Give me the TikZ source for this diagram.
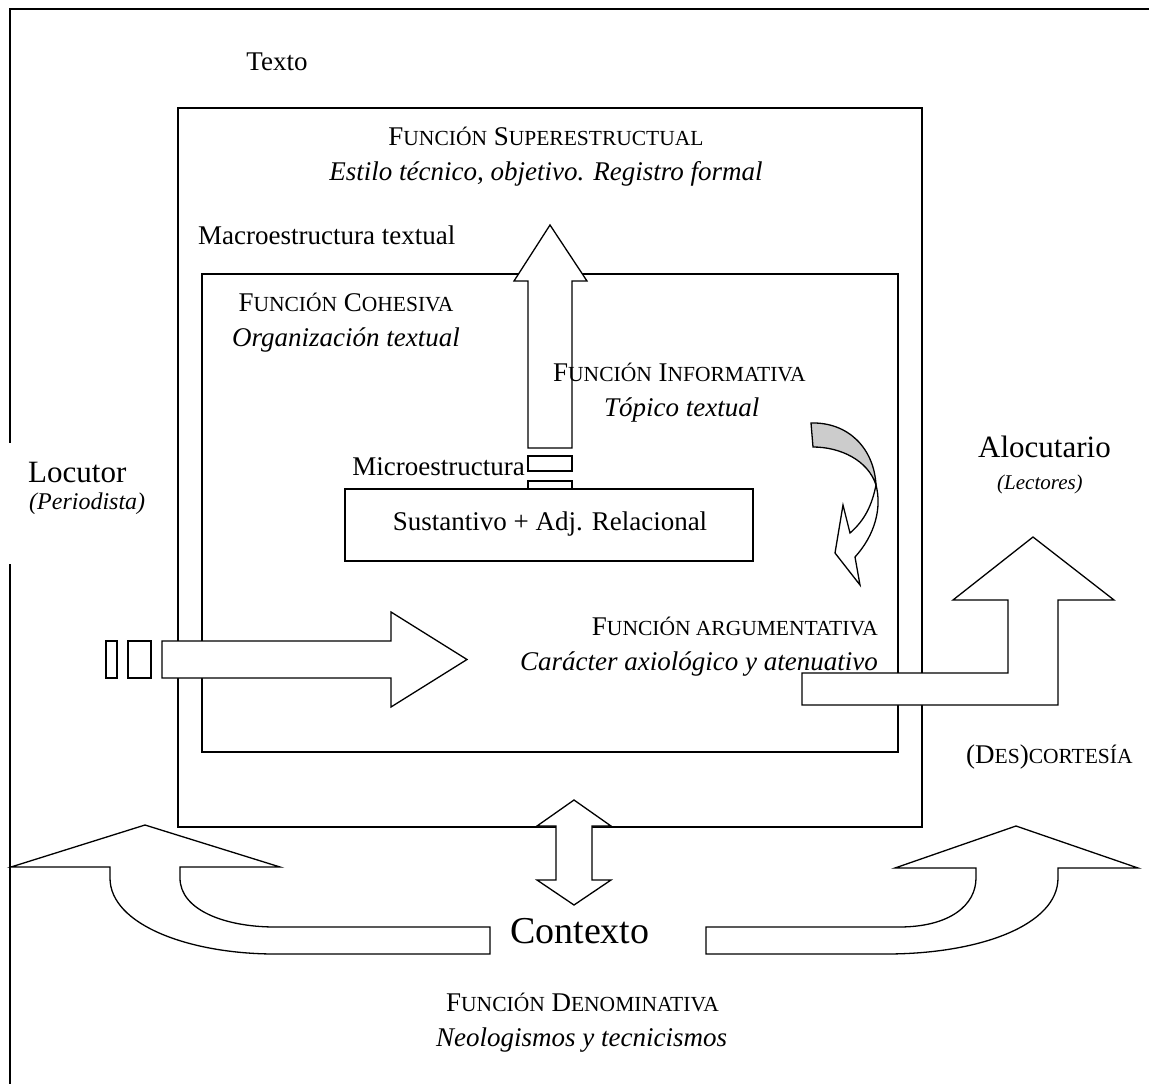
\documentclass[tikz,border=0pt]{standalone}
\usepackage{fontspec}
\setmainfont{Liberation Serif}
\newcommand\smc[1]{{\fontsize{21.5}{25}\selectfont #1}}
\definecolor{twistgray}{RGB}{204,204,204}
\begin{document}
\begin{tikzpicture}[x=1pt,y=-1pt,
  frame/.style={line width=1.6pt},
  shapeline/.style={draw,fill=white,line width=1.3pt,line join=miter},
  txt/.style={inner sep=0pt,font=\fontsize{27}{31}\selectfont},
  itxt/.style={inner sep=0pt,font=\fontsize{27}{31}\selectfont\itshape},
  big/.style={inner sep=0pt,font=\fontsize{31}{36}\selectfont},
  par/.style={inner sep=0pt,font=\fontsize{24}{28}\selectfont\itshape}]
\useasboundingbox (0,0) rectangle (1149,1084);

% open outer frame
\draw[line width=2.6pt] (1149,9) -- (10,9) -- (10,443);
\draw[line width=2.6pt] (10,564) -- (10,1084);

% text box and inner box
\draw[frame] (178,108) rectangle (922,827);
\draw[frame] (202,274) rectangle (898,752);
\draw[frame] (345,489) rectangle (753,561);

% microstructure to macrostructure
\draw[shapeline] (528,448) -- (528,281) -- (514,281) -- (550,225) -- (587,281)
  -- (572,281) -- (572,448) -- cycle;
\draw[shapeline] (528,456) rectangle (572,471);
\draw[shapeline] (528,481) rectangle (572,489);

% speaker arrow
\draw[shapeline] (106,641) rectangle (117,678);
\draw[shapeline] (128,641) rectangle (151,678);
\draw[shapeline] (162,641) -- (391,641) -- (391,612) -- (467,659.5) -- (391,707)
  -- (391,678) -- (162,678) -- cycle;

% arrow towards the readers
\draw[shapeline] (802,673) -- (1008,673) -- (1008,600) -- (953,600) -- (1033,537)
  -- (1114,600) -- (1058,600) -- (1058,705) -- (802,705) -- cycle;

% twisted arrow
\draw[line width=1.3pt,fill=twistgray] (811,423) .. controls (848,422) and (874,448) .. (876,485)
  .. controls (868,460) and (840,447) .. (813,447) -- cycle;
\draw[shapeline] (876,485) .. controls (882,508) and (875,535) .. (855,557)
  -- (860,585) -- (835,553) -- (843,505) -- (850,533)
  .. controls (865,520) and (872,505) .. (876,485) -- cycle;

% context double arrow
\draw[shapeline] (574,800) -- (611,826) -- (592,826) -- (592,880) -- (611,880)
  -- (574,905) -- (537,880) -- (556,880) -- (556,826) -- (537,826) -- cycle;

% bent arrows from the context
\draw[shapeline] (11,867) -- (145,825) -- (280,867) -- (180,867) -- (180,878)
  .. controls (180,910) and (225,927) .. (275,927) -- (490,927) -- (490,954)
  -- (275,954) .. controls (190,954) and (110,925) .. (110,878) -- (110,867) -- cycle;
\draw[shapeline] (706,927) -- (899,927) .. controls (950,927) and (976,905) .. (976,878)
  -- (976,868) -- (895,868) -- (1016,826) -- (1138,868) -- (1058,868) -- (1058,878)
  .. controls (1058,925) and (980,954) .. (886,954) -- (706,954) -- cycle;

% labels
\node[txt,anchor=base] (texto) at (277,70) {Texto};
\node[txt,anchor=base] (super) at (546,145) {F\smc{UNCIÓN} S\smc{UPERESTRUCTUAL}};
\node[itxt,anchor=base] (estilo) at (546,180) {Estilo técnico, objetivo. Registro formal};
\node[txt,anchor=base west] (macro) at (198,244) {Macroestructura textual};
\node[txt,anchor=base] (cohes) at (346,311) {F\smc{UNCIÓN} C\smc{OHESIVA}};
\node[itxt,anchor=base] (organ) at (346,346) {Organización textual};
\node[txt,anchor=base west] (inform) at (553,381) {F\smc{UNCIÓN} I\smc{NFORMATIVA}};
\node[itxt,anchor=base west] (topico) at (604,416) {Tópico textual};
\node[txt,anchor=base east] (micro) at (525,475) {Microestructura};
\node[txt,anchor=base] (sust) at (550,530) {Sustantivo + Adj. Relacional};
\node[big,anchor=base west] (locutor) at (28,482) {Locutor};
\node[par,anchor=base west] (period) at (29,509) {(Periodista)};
\node[big,anchor=base west] (alocut) at (978,457) {Alocutario};
\node[par,font=\fontsize{21}{25}\selectfont\itshape,anchor=base west] (lector) at (997,489) {(Lectores)};
\node[txt,anchor=base east] (argum) at (878,635) {F\smc{UNCIÓN ARGUMENTATIVA}};
\node[itxt,anchor=base east] (caract) at (878,670) {Carácter axiológico y atenuativo};
\node[txt,anchor=base west] (cortes) at (966,763) {(D\smc{ES})\smc{CORTESÍA}};
\node[inner sep=0pt,font=\fontsize{38}{44}\selectfont,anchor=base west] (contexto) at (510,943) {Contexto};
\node[txt,anchor=base west] (denom) at (446,1011) {F\smc{UNCIÓN} D\smc{ENOMINATIVA}};
\node[itxt,anchor=base west] (neolog) at (436,1046) {Neologismos y tecnicismos};
\end{tikzpicture}
\end{document}
